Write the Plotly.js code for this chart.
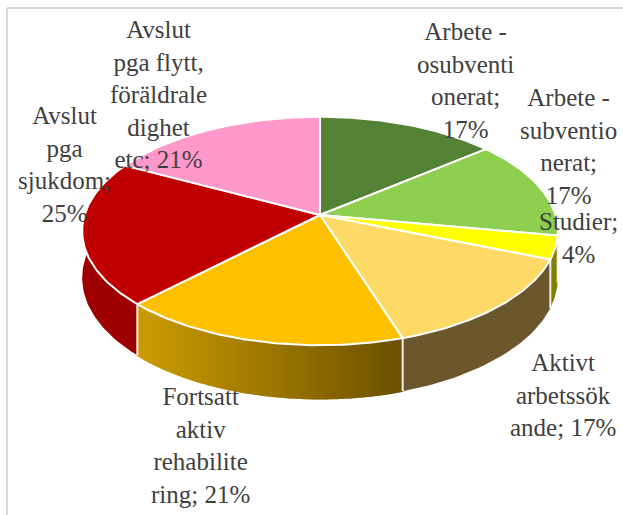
<!DOCTYPE html>
<html><head><meta charset="utf-8">
<script src="https://cdn.plot.ly/plotly-3.0.1.min.js"></script>
<style>html,body{margin:0;padding:0;background:#fff}#c{width:623px;height:515px}</style>
</head><body><div id="c"></div>
<script>
// Data
const categories = ["Arbete - osubventionerat","Arbete - subventionerat","Studier","Aktivt arbetssökande","Fortsatt aktiv rehabilitering","Avslut pga sjukdom","Avslut pga flytt, föräldraledighet etc"];
const values = [17,17,4,17,21,25,21];
const wrappedLabels = [
  "Arbete -<br>osubventi<br>onerat;<br>17%",
  "Arbete -<br>subventio<br>nerat;<br>17%",
  "Studier;<br>4%",
  "Aktivt<br>arbetssök<br>ande; 17%",
  "Fortsatt<br>aktiv<br>rehabilite<br>ring; 21%",
  "Avslut<br>pga<br>sjukdom;<br>25%",
  "Avslut<br>pga flytt,<br>föräldrale<br>dighet<br>etc; 21%"
];
const topColors = ["#548235","#8ECF50","#FFFF00","#FFD966","#FFC000","#C00000","#FF99CC"];
const sideStart = ["#3a5a25","#64913a","#7F7F00","#6B572B","#CC9C00","#9E0000","#a86a8a"];
const sideEnd   = ["#3a5a25","#64913a","#7F7F00","#6B572B","#6B5000","#9E0000","#a86a8a"];
const labelX = [465,568,578,563,200,64,158];
const labelY = [80,146,238,395,445,164,94];

// Projection of the pie disc (page-pixel axes)
const cx=320, cy=215, a=235.5, b=112, k=0.14, depth=46;
function proj(theta, r, z){
  const u=r*Math.sin(theta), v=-r*Math.cos(theta), w=1-k*v;
  return [cx+a*u/w, cy+(b*v+depth*z)/w];
}
const total=values.reduce((s,x)=>s+x,0);
const bounds=[0]; values.forEach(x=>bounds.push(bounds[bounds.length-1]+x/total*2*Math.PI));
const hex=c=>[1,3,5].map(i=>parseInt(c.substr(i,2),16));
function mix(c1,c2,t){const A=hex(c1),B=hex(c2);return "rgb("+A.map((p,i)=>Math.round(p+(B[i]-p)*t)).join(",")+")";}
const base={type:"scatter",mode:"lines",hoverinfo:"skip",showlegend:false};
const traces=[];
// Sides
values.forEach((val,i)=>{
  const t0=Math.max(bounds[i],Math.PI*0.44), t1=Math.min(bounds[i+1],Math.PI*1.58);
  if(t1<=t0) return;
  const n=sideStart[i]===sideEnd[i]?1:100;
  const sub=n===1?Math.max(4,Math.ceil((t1-t0)/0.02)):3;
  const xA=proj(t0,1,0)[0], xB=proj(t1,1,0)[0], xMin=Math.min(xA,xB), xSpan=Math.abs(xA-xB);
  for(let s=0;s<n;s++){
    const p=t0+(t1-t0)*s/n, q=t0+(t1-t0)*(s+1)/n, xs=[],ys=[];
    for(let j=0;j<=sub;j++){const P=proj(p+(q-p)*j/sub,1,0);xs.push(P[0]);ys.push(P[1]);}
    for(let j=sub;j>=0;j--){const P=proj(p+(q-p)*j/sub,1,1);xs.push(P[0]);ys.push(P[1]);}
    xs.push(xs[0]);ys.push(ys[0]);
    const xm=proj((p+q)/2,1,0)[0];
    const c2=n===1?sideStart[i]:mix(sideStart[i],sideEnd[i],(xm-xMin)/xSpan);
    traces.push(Object.assign({},base,{x:xs,y:ys,fill:"toself",fillcolor:c2,line:{color:c2,width:n===1?0:1.5}}));
  }
});
// Side separators
[bounds[2],bounds[3],bounds[4],bounds[5]].forEach(t=>{
  const A=proj(t,1,0),B=proj(t,1,1);
  traces.push(Object.assign({},base,{x:[A[0],B[0]],y:[A[1],B[1]],line:{color:"#f2f2f2",width:2}}));
});
// Top faces
values.forEach((val,i)=>{
  const xs=[cx],ys=[cy],steps=Math.ceil((bounds[i+1]-bounds[i])/0.015);
  for(let j=0;j<=steps;j++){const P=proj(bounds[i]+(bounds[i+1]-bounds[i])*j/steps,1,0);xs.push(P[0]);ys.push(P[1]);}
  xs.push(cx);ys.push(cy);
  traces.push(Object.assign({},base,{name:categories[i],x:xs,y:ys,fill:"toself",fillcolor:topColors[i],line:{color:"#ffffff",width:2}}));
});
const annotations=wrappedLabels.map((t,i)=>({text:t,x:labelX[i],y:labelY[i],xref:"x",yref:"y",showarrow:false,xanchor:"center",yanchor:"middle",align:"center",font:{family:"Liberation Serif, serif",size:25,color:"#404040"}}));
const layout={width:623,height:515,margin:{l:0,r:0,t:0,b:0},paper_bgcolor:"#fff",plot_bgcolor:"#fff",showlegend:false,
  xaxis:{range:[0,623],visible:false,fixedrange:true},
  yaxis:{range:[515,0],visible:false,fixedrange:true},
  annotations,
  shapes:[
    {type:"line",xref:"x",yref:"y",x0:7,x1:7,y0:8,y1:515,line:{color:"#d9d9d9",width:2}},
    {type:"line",xref:"x",yref:"y",x0:7,x1:623,y0:8,y1:8,line:{color:"#d9d9d9",width:2}}
  ]};
Plotly.newPlot("c",traces,layout,{displayModeBar:false,staticPlot:true});
</script></body></html>
